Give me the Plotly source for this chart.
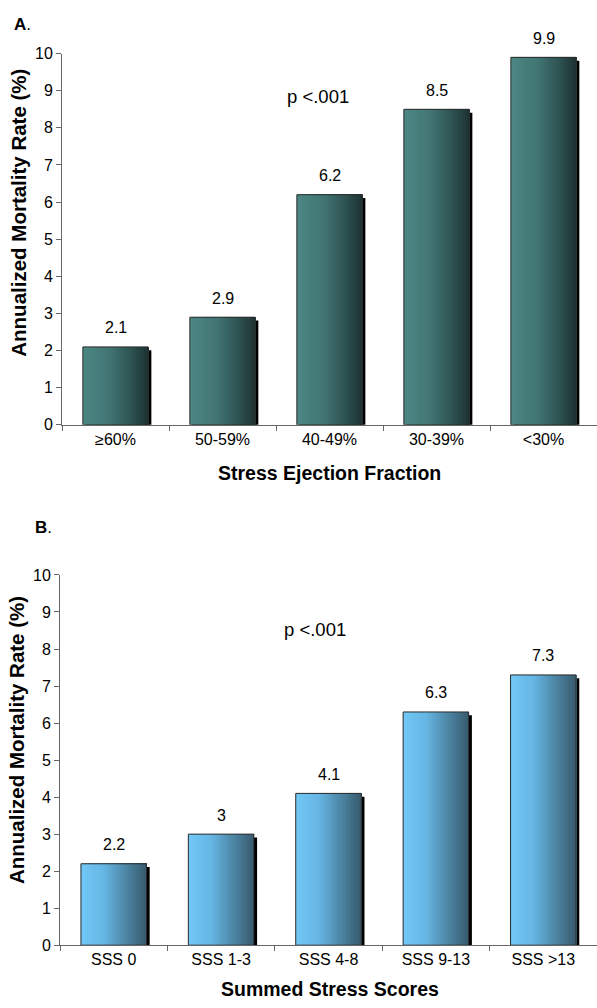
import plotly.graph_objects as go

# Panel A: annualized mortality by stress ejection fraction
ef_categories = ["≥60%", "50-59%", "40-49%", "30-39%", "<30%"]
ef_mortality = [2.1, 2.9, 6.2, 8.5, 9.9]
ef_labels = ["2.1", "2.9", "6.2", "8.5", "9.9"]

# Panel B: annualized mortality by summed stress score
sss_categories = ["SSS 0", "SSS 1-3", "SSS 4-8", "SSS 9-13", "SSS >13"]
sss_mortality = [2.2, 3.0, 4.1, 6.3, 7.3]
sss_labels = ["2.2", "3", "4.1", "6.3", "7.3"]

FONT = "Liberation Sans, Arial, sans-serif"
W, H = 597, 1008
BAR_W = 0.61
N_SLICES = 32

# horizontal gradient stops (position, rgb)
teal_stops = [(0.0, (76, 136, 133)), (0.4, (66, 118, 116)), (0.75, (45, 82, 81)), (1.0, (30, 50, 50))]
blue_stops = [(0.0, (114, 200, 246)), (0.35, (102, 182, 228)), (0.7, (76, 132, 162)), (1.0, (56, 90, 110))]


def py(y):
    """Vertical pixel position (from top) to paper fraction."""
    return 1 - ((y - 8.4) / 0.9825) / H


def grad_color(stops, t):
    for (p0, c0), (p1, c1) in zip(stops[:-1], stops[1:]):
        if p0 <= t <= p1:
            f = (t - p0) / (p1 - p0) if p1 > p0 else 0
            c = [round(a + (b - a) * f) for a, b in zip(c0, c1)]
            return f"rgb({c[0]},{c[1]},{c[2]})"
    c = stops[-1][1]
    return f"rgb({c[0]},{c[1]},{c[2]})"


fig = go.Figure()


def add_panel(cats, vals, stops, xref, yref):
    # drop shadow, shifted right and down
    fig.add_trace(go.Bar(
        x=cats, y=vals, base=[-0.09] * len(vals), width=BAR_W,
        offset=-BAR_W / 2 + 0.03, marker=dict(color="#000000", line=dict(width=0)),
        xaxis=xref, yaxis=yref, hoverinfo="skip", showlegend=False))
    # gradient body: each layer runs from its start to the right edge,
    # drawn left to right so no seams show between layers
    sw = BAR_W / N_SLICES
    for i in range(N_SLICES):
        t = (i + 0.5) / N_SLICES
        fig.add_trace(go.Bar(
            x=cats, y=vals, width=BAR_W - i * sw, offset=-BAR_W / 2 + i * sw,
            marker=dict(color=grad_color(stops, t), line=dict(width=0)),
            xaxis=xref, yaxis=yref, hoverinfo="skip", showlegend=False))
    # outline
    fig.add_trace(go.Bar(
        x=cats, y=vals, width=BAR_W, offset=-BAR_W / 2,
        marker=dict(color="rgba(0,0,0,0)", line=dict(color="#2a2a2a", width=1)),
        xaxis=xref, yaxis=yref, hoverinfo="skip", showlegend=False))


add_panel(ef_categories, ef_mortality, teal_stops, "x", "y")
add_panel(sss_categories, sss_mortality, blue_stops, "x2", "y2")


def paper_text(x, y, text, size, angle=0, xanchor="center"):
    return dict(x=x / W, y=y, xref="paper", yref="paper", xanchor=xanchor,
                yanchor="middle", text=text, textangle=angle, showarrow=False,
                font=dict(size=size, color="#000"))


annotations = []
for cats, vals, labs, xr, yr in [
    (ef_categories, ef_mortality, ef_labels, "x", "y"),
    (sss_categories, sss_mortality, sss_labels, "x2", "y2"),
]:
    for c, v, lab in zip(cats, vals, labs):
        annotations.append(dict(x=c, y=v, xref=xr, yref=yr, text=lab, showarrow=False,
                                xanchor="center", yanchor="middle", yshift=19,
                                font=dict(size=16, color="#000")))

annotations += [
    dict(x=1.89, y=8.84, xref="x", yref="y", text="p <.001", showarrow=False,
         xanchor="center", yanchor="middle", font=dict(size=18.5, color="#000")),
    dict(x=1.87, y=8.54, xref="x2", yref="y2", text="p <.001", showarrow=False,
         xanchor="center", yanchor="middle", font=dict(size=18.5, color="#000")),
    paper_text(12, py(25), "<b>A</b>.", 17, xanchor="left"),
    paper_text(33, py(528), "<b>B</b>.", 17, xanchor="left"),
    paper_text(19, py(213), "<b>Annualized Mortality Rate (%)</b>", 20.5, -90),
    paper_text(16, py(740), "<b>Annualized Mortality Rate (%)</b>", 20.5, -90),
    paper_text(329, py(473), "<b>Stress Ejection Fraction</b>", 19.5),
    paper_text(330, 1 - 998 / H, "<b>Summed Stress Scores</b>", 19.5),
]

xaxis_common = dict(type="category", range=[-0.5, 4.5], showline=True, linecolor="#666",
                    linewidth=1, ticks="outside", tickson="boundaries", ticklen=5,
                    tickcolor="#666", tickfont=dict(size=16, color="#000"),
                    showgrid=False, zeroline=False, fixedrange=True)
yaxis_common = dict(range=[0, 10], dtick=1, showline=True, linecolor="#666", linewidth=1,
                    ticks="outside", ticklen=5, tickcolor="#666",
                    tickfont=dict(size=16, color="#000"), showgrid=False, zeroline=False)

fig.update_layout(
    width=W, height=H,
    margin=dict(l=0, r=0, t=0, b=0),
    paper_bgcolor="white", plot_bgcolor="white",
    font=dict(family=FONT, color="#000"),
    barmode="overlay", showlegend=False,
    xaxis=dict(xaxis_common, domain=[62 / W, 1.0], anchor="y"),
    yaxis=dict(yaxis_common, domain=[py(425), py(54)], anchor="x"),
    xaxis2=dict(xaxis_common, domain=[60 / W, 1.0], anchor="y2"),
    yaxis2=dict(yaxis_common, domain=[py(945), py(575)], anchor="x2"),
    annotations=annotations,
)

fig.write_html("out.html")
